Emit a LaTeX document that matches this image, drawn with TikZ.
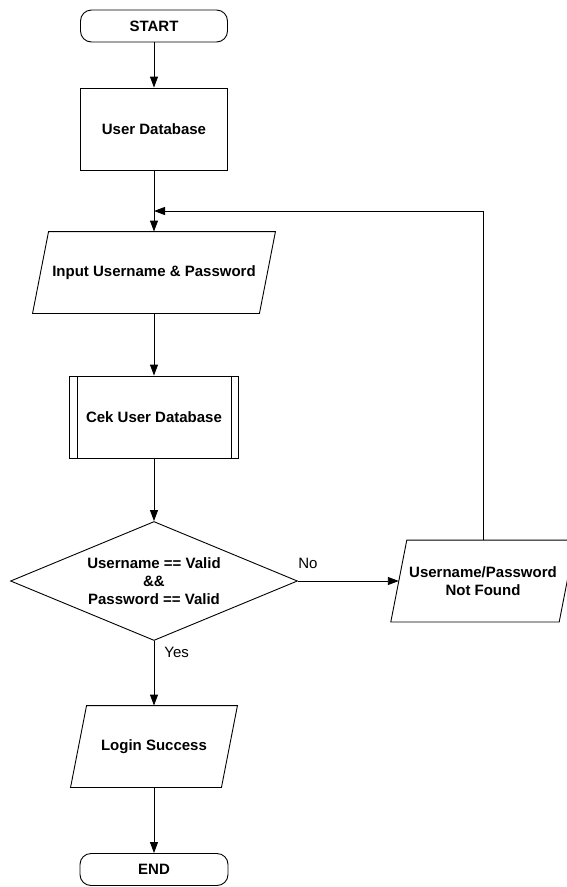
\documentclass[tikz,border=0pt]{standalone}
\usepackage{fontspec}
\setmainfont{Liberation Sans}
\usetikzlibrary{shapes.geometric,arrows.meta}
\begin{document}
\begin{tikzpicture}[x=1pt,y=-1pt,
  line width=0.9pt,
  every node/.style={font=\fontsize{15}{18}\selectfont\bfseries, align=center, inner sep=1pt},
  term/.style={draw, rounded corners=11pt, minimum width=147pt, minimum height=32pt},
  box/.style={draw, minimum width=147pt, minimum height=82pt},
  para/.style={minimum height=81pt},
  dec/.style={draw, diamond, aspect=2.41, minimum width=287pt, minimum height=119pt, inner sep=0pt},
  lbl/.style={font=\fontsize{15}{18}\selectfont\mdseries},
  arr/.style={-{Triangle[length=11pt,width=8pt]}}
]
\useasboundingbox (0,0) rectangle (566,887);

\node[term] (start) at (154,26) {START};
\node[box] (db) at (154,129) {User Database};
\node[para, minimum width=226pt] (in) at (154,272.5) {Input Username \& Password};
\node[box, minimum width=169pt] (cek) at (154,417) {Cek User Database};
\node[dec] (dec) at (154,581) {Username == Valid\\\&\&\\Password == Valid};
\node[para, minimum width=167.5pt] (nf) at (483,581) {Username/Password\\Not Found};
\node[para, minimum width=150pt] (ok) at (154,746.5) {Login Success};
\node[term, minimum width=148pt] (end) at (154,869.5) {END};

% parallelograms
\foreach \n/\s in {in/8, nf/8, ok/8}{
  \draw ([xshift=\s pt]\n.north west) -- ([xshift=\s pt]\n.north east)
        -- ([xshift=-\s pt]\n.south east) -- ([xshift=-\s pt]\n.south west) -- cycle;
}
% predefined process side lines
\draw ([xshift=8pt]cek.north west) -- ([xshift=8pt]cek.south west);
\draw ([xshift=-8pt]cek.north east) -- ([xshift=-8pt]cek.south east);

\coordinate (join) at (154,211);

\draw[arr] (start) -- (db);
\draw[arr] (db) -- (in);
\draw[arr] (in) -- (cek);
\draw[arr] (cek) -- (dec);
\draw[arr] (dec) -- (ok);
\draw[arr] (ok) -- (end);
\draw[arr] (dec.east) -- (nf.west);
\draw[arr] (nf.north) |- (join);

\node[lbl] (no) at (308,563) {No};
\node[lbl, anchor=west] (yes) at (163,652) {Yes};
\end{tikzpicture}
\end{document}
